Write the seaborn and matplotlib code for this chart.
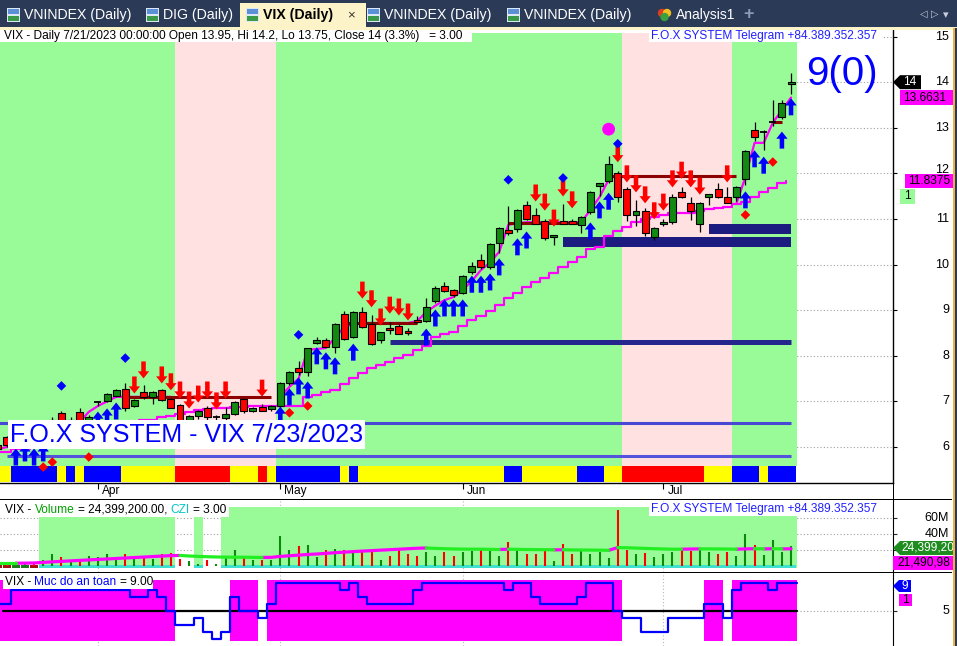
import numpy as np
import matplotlib
matplotlib.use("Agg")
import matplotlib.pyplot as plt
from matplotlib.path import Path
from matplotlib.patches import Rectangle, Polygon, Ellipse
import seaborn as sns

# ---------------- data ----------------
opens = [6.05, 6.22, 6.05, 6.15, 6.28, 6.20, 6.50, 6.75, 6.50, 6.77,
         6.50, 6.99, 7.01, 7.12, 7.27, 6.90, 7.21, 7.10, 7.25, 7.05,
         6.92, 6.60, 6.68, 6.86, 6.66, 6.64, 6.72, 7.05, 6.79, 6.88,
         6.83, 6.90, 7.40, 7.73, 7.64, 8.28, 8.35, 8.19, 8.92, 8.41,
         8.96, 8.70, 8.35, 8.61, 8.65, 8.54, 8.79, 8.76, 9.20, 9.53,
         9.44, 9.38, 9.84, 10.10, 9.95, 10.47, 10.76, 10.78, 11.31, 11.09,
         10.96, 10.60, 10.96, 10.96, 10.87, 11.15, 11.72, 11.83, 12.01, 11.66,
         11.09, 11.18, 10.61, 10.89, 10.93, 11.59, 11.35, 10.89, 11.48, 11.66,
         11.48, 11.48, 11.88, 12.95, 12.91, 13.13, 13.24, 13.95]
highs = [6.10, 6.25, 6.20, 6.30, 6.35, 6.55, 6.65, 6.80, 6.65, 6.85,
         6.70, 7.00, 7.18, 7.28, 7.40, 7.05, 7.35, 7.22, 7.28, 7.08,
         6.95, 6.70, 6.82, 6.90, 6.70, 6.88, 7.00, 7.08, 6.88, 6.95,
         6.92, 7.42, 7.66, 7.89, 8.18, 8.42, 8.40, 8.72, 8.99, 8.98,
         9.07, 8.89, 8.52, 8.74, 8.70, 8.60, 8.87, 9.27, 9.52, 9.62,
         9.47, 9.78, 10.05, 10.24, 10.48, 10.82, 11.28, 11.22, 11.40, 11.25,
         11.00, 10.65, 11.33, 11.00, 11.06, 11.62, 11.80, 12.38, 12.05, 11.70,
         11.42, 11.25, 10.82, 11.00, 11.55, 11.70, 11.48, 11.38, 11.55, 11.80,
         11.70, 11.72, 12.52, 13.12, 12.95, 13.60, 13.60, 14.20]
lows = [5.90, 6.00, 6.00, 6.10, 6.15, 6.18, 6.45, 6.45, 6.45, 6.50,
        6.45, 6.90, 6.98, 7.10, 6.80, 6.88, 7.05, 6.95, 7.00, 6.85,
        6.50, 6.55, 6.62, 6.60, 6.60, 6.60, 6.70, 6.75, 6.77, 6.78,
        6.80, 6.85, 7.35, 7.58, 7.55, 8.25, 8.19, 8.07, 8.35, 8.39,
        8.60, 8.24, 8.29, 8.48, 8.48, 8.45, 8.72, 8.74, 9.15, 9.40,
        9.30, 9.35, 9.80, 9.90, 9.90, 10.25, 10.66, 10.72, 10.98, 10.88,
        10.55, 10.42, 10.88, 10.88, 10.70, 11.10, 11.50, 11.78, 11.38, 10.95,
        10.85, 10.62, 10.55, 10.85, 10.90, 11.45, 10.98, 10.72, 11.30, 11.45,
        11.35, 11.40, 11.75, 12.70, 12.51, 13.05, 13.20, 13.75]
closes = [5.95, 6.04, 6.15, 6.28, 6.20, 6.50, 6.60, 6.50, 6.60, 6.55,
          6.66, 6.99, 7.16, 7.25, 6.86, 7.03, 7.10, 7.21, 7.03, 6.86,
          6.55, 6.67, 6.79, 6.66, 6.66, 6.72, 6.98, 6.79, 6.86, 6.79,
          6.90, 7.40, 7.64, 7.64, 8.17, 8.35, 8.19, 8.70, 8.37, 8.96,
          8.63, 8.26, 8.52, 8.57, 8.48, 8.50, 8.74, 9.07, 9.49, 9.42,
          9.33, 9.75, 9.97, 9.95, 10.45, 10.80, 10.69, 11.20, 11.00, 10.89,
          10.58, 10.64, 10.89, 10.89, 11.04, 11.59, 11.79, 12.21, 11.48, 11.09,
          11.18, 10.69, 10.80, 10.93, 11.48, 11.48, 11.18, 11.35, 11.55, 11.48,
          11.35, 11.70, 12.49, 12.80, 12.91, 13.13, 13.55, 14.00]
volume_m = [1.5, 2, 1.5, 2, 2.5, 7.5, 15, 11, 7.5, 9,
            12, 11, 15, 9, 15, 9, 12, 9, 15, 16,
            9, 6, 3, 8, 3, 12, 20, 12, 7.5, 7.5,
            7.5, 37, 20, 25, 26, 11, 20, 21, 20, 20,
            19, 18, 7.5, 12, 21, 15, 12, 17, 12, 18,
            12, 17, 19, 21, 19, 12, 30, 19, 15, 15,
            19, 6, 28, 15, 19, 15, 18, 10, 70, 20,
            15, 16, 11, 15, 18, 20, 19, 21, 18, 15,
            17, 12, 40, 26, 14, 32, 18, 24.3992]
volume_ma_m = [3.5, 3.5, 3.5, 3.6, 3.8, 4.5, 5.2, 5.8, 6.4, 7.0,
               7.6, 8.2, 8.8, 9.4, 10.0, 10.6, 11.2, 11.8, 12.4, 13.0,
               13.2, 12.5, 12.0, 11.6, 11.3, 11.1, 11.0, 11.0, 10.8, 10.7,
               10.8, 12.0, 12.8, 13.6, 14.4, 15.0, 15.8, 16.6, 17.3, 18.0,
               18.6, 19.2, 19.8, 20.4, 21.0, 21.6, 22.2, 22.5, 22.0, 21.6,
               21.3, 21.1, 21.0, 21.0, 20.8, 20.6, 21.0, 20.8, 20.6, 20.5,
               20.4, 20.2, 20.3, 20.1, 20.0, 19.9, 19.8, 19.6, 23.0, 22.8,
               22.4, 22.0, 21.6, 21.3, 21.0, 21.0, 21.2, 21.4, 21.4, 21.3,
               21.2, 21.0, 21.4, 21.6, 21.4, 21.6, 21.4, 21.490985]
safety_level = [6, 6, 8, 8, 8, 8, 8, 8, 8, 8,
                8, 8, 8, 8, 8, 7, 7, 8, 7, 5,
                3, 3, 4, 2, 1, 2, 7, 5, 5, 4,
                6, 9, 9, 9, 9, 9, 9, 9, 8, 9,
                7, 6, 6, 6, 6, 6, 8, 9, 9, 9,
                9, 9, 9, 9, 9, 9, 8, 9, 9, 7,
                6, 6, 6, 6, 7, 9, 9, 9, 5, 4,
                4, 2, 2, 2, 4, 4, 4, 4, 6, 6,
                4, 8, 9, 9, 9, 8, 9, 9]
trend_up = [1] * 20 + [0] * 11 + [1] * 38 + [0] * 12 + [1] * 7
volume_zone = [0] * 5 + [1] * 15 + [0, 0, 1, 0, 0] + [1] * 63
signal_strip = list("YYBBBBBYBY" "BBBBYYYYYY" "RRRRRRYYYR" "YBBBBBBBYB"
                    "YYYYYYYYYY" "YYYYYYBBYY" "YYYYBBBYYR" "RRRRRRRRYY" "YBBBYBBB")
nan = float("nan")
fast_line = ([5.95, 6.0, 6.0, 6.05, 6.1, 6.2, 6.3, 6.4, 6.45, 6.55,
              6.77, 6.9, 7.0, 7.1, 7.1, 7.1, 7.1, 7.1, 7.1, 7.1] + [nan] * 11 +
             [7.1, 7.32, 7.5, 8.13, 8.15, 8.17, 8.4, 8.63, 8.7,
              8.72, 8.72, 8.72, 8.72, 8.72, 8.72, 8.76, 8.96, 9.1, 9.22,
              9.29, 9.45, 9.64, 9.88, 10.05, 10.28, 10.87, 10.91, 10.93, 10.93,
              10.93, 10.93, 10.93, 10.93, 10.93, 11.2, 11.48, 11.86] + [nan] * 13 +
             [11.33, 11.92, 12.67, 12.67, 13.11, 13.39, 13.6631])
slow_line = [5.9, 5.9, 5.95, 5.95, 6.0, 6.0, 6.05, 6.1, 6.15, 6.2,
             6.25, 6.3, 6.4, 6.45, 6.5, 6.55, 6.59, 6.6, 6.65, 6.68,
             6.72, 6.77, 6.81, 6.83, 6.85, 6.86, 6.87, 6.88, 6.89, 6.90,
             6.90, 6.90, 6.90, 6.90, 7.10, 7.15, 7.20, 7.25, 7.38, 7.51,
             7.62, 7.73, 7.80, 7.86, 7.95, 8.02, 8.13, 8.21, 8.41, 8.47,
             8.52, 8.65, 8.79, 8.87, 8.98, 9.11, 9.27, 9.38, 9.51, 9.61,
             9.71, 9.82, 9.95, 10.06, 10.17, 10.34, 10.39, 10.63, 10.74, 10.82,
             10.93, 11.0, 11.04, 11.09, 11.13, 11.13, 11.13, 11.18, 11.22, 11.24,
             11.26, 11.33, 11.37, 11.48, 11.59, 11.68, 11.79, 11.8375]
month_ticks = [11, 31, 51, 73]
month_labels = ["Apr", "May", "Jun", "Jul"]
sell_idx = [15, 16, 18, 19, 20, 21, 22, 23, 24, 25, 29, 40, 41, 42, 43, 44, 45,
            59, 60, 61, 62, 63, 68, 69, 70, 71, 72, 73, 74, 75, 76, 77, 80]
sell_y = [7.36, 7.69, 7.58, 7.43, 7.25, 7.03, 7.16, 7.25, 7.01, 7.25, 7.29, 9.44, 9.25,
          8.85, 9.11, 9.07, 8.96, 11.57, 11.37, 11.02, 11.68, 11.42, 12.43, 11.99,
          11.77, 11.53, 11.18, 11.37, 11.88, 12.07, 11.88, 11.72, 11.99]
buy_idx = [2, 3, 4, 5, 11, 12, 13, 31, 32, 33, 34, 35, 36, 37, 39, 47, 48, 49, 50,
           51, 52, 53, 54, 55, 57, 58, 65, 66, 67, 82, 83, 84, 86, 87]
buy_y = [5.78, 5.87, 5.78, 5.87, 6.59, 6.66, 6.79, 6.70, 7.10, 7.34, 7.25, 8.0, 7.89,
         7.78, 8.08, 8.41, 8.83, 9.05, 9.05, 9.05, 9.57, 9.57, 9.62, 9.95, 10.39,
         10.54, 10.74, 11.2, 11.39, 11.42, 12.32, 12.18, 12.73, 13.46]
blue_dot_idx = [7, 14, 33, 56, 62, 68]
blue_dot_y = [7.34, 7.95, 8.46, 11.86, 11.90, 12.65]
red_dot_idx = [5, 6, 10, 32, 34, 82, 85]
red_dot_y = [5.56, 5.67, 5.78, 6.75, 6.90, 11.09, 12.25]
peak_idx = [67]
peak_y = [12.97]
resist_levels = [7.10, 8.72, 10.91, 11.94, 13.13]
resist_start = [14, 38, 56, 67, 85]
resist_end = [30, 46, 64, 81, 86]
support_levels = [10.50, 10.78, 8.30, 6.53, 5.80]
support_start = [62, 78, 43, 0, 1]
support_end = [87, 87, 87, 87, 87]

# ---------------- style ----------------
sns.set_style("white")
plt.rcParams["font.family"] = ["Liberation Sans", "DejaVu Sans"]

W, H = 957, 646
fig = plt.figure(figsize=(W / 100, H / 100), dpi=100)
fig.patch.set_facecolor("white")
renderer = fig.canvas.get_renderer()

n = len(closes)
idx = np.arange(n)
SP = 9.12
X0 = -2.4
xlim = ((0 - X0) / SP, (893 - X0) / SP)

def fy(p):
    return 1 - p / H

def frect(x0, y0, x1, y1, color, z=2):
    fig.add_artist(Rectangle((x0 / W, 1 - y1 / H), (x1 - x0) / W, (y1 - y0) / H,
                             transform=fig.transFigure, facecolor=color,
                             edgecolor="none", zorder=z))

def fpoly(pts, color, z=4):
    fig.add_artist(Polygon([(x / W, 1 - y / H) for x, y in pts], closed=True,
                           transform=fig.transFigure, facecolor=color,
                           edgecolor="none", zorder=z))

def ftext(x, y, s, size=8.6, color="black", ha="left", va="center", z=6, **kw):
    return fig.text(x / W, 1 - y / H, s, fontsize=size, color=color, ha=ha,
                    va=va, zorder=z, **kw)

def twidth(s, size):
    t = fig.text(0, 0, s, fontsize=size)
    w = t.get_window_extent(renderer).width
    t.remove()
    return w

def multitext(x0, y, pieces, size=8.6):
    full = ""
    for s, c in pieces:
        full += s
        st = s.strip()
        if not st:
            continue
        xs = x0 + twidth(full.rstrip(), size) - twidth(st, size)
        ftext(xs, y, st, size, c)

def runs(flags, val):
    out, start = [], None
    for i, f in enumerate(flags):
        if f == val and start is None:
            start = i
        if f != val and start is not None:
            out.append((start, i - 1))
            start = None
    if start is not None:
        out.append((start, len(flags) - 1))
    return out

def nan_runs(vals):
    out, start = [], None
    for i, v in enumerate(vals):
        ok = not np.isnan(v)
        if ok and start is None:
            start = i
        if not ok and start is not None:
            out.append((start, i - 1))
            start = None
    if start is not None:
        out.append((start, len(vals) - 1))
    return out

up_path = Path([(0, 0.75), (0.5, 0.12), (0.2, 0.12), (0.2, -0.75), (-0.2, -0.75),
                (-0.2, 0.12), (-0.5, 0.12), (0, 0.75)],
               [Path.MOVETO] + [Path.LINETO] * 6 + [Path.CLOSEPOLY])
down_path = Path([(x, -y) for x, y in up_path.vertices], up_path.codes)

# ---------------- axes ----------------
ax = fig.add_axes([0, fy(483), 893 / W, 453 / H])
ax_v = fig.add_axes([0, fy(572), 893 / W, 73 / H])
ax_s = fig.add_axes([0, fy(646), 893 / W, 72 / H])

GREEN_BG = "#98fb98"
PINK_BG = "#ffe1e1"

# main panel
ax.set_xlim(*xlim)
ax.set_ylim(6 - 36 / 45.6, 6 + 417 / 45.6)
ax.set_axisbelow(True)
ax.grid(True, axis="y", linestyle=(0, (1, 2)), color="#a0a0a0", lw=0.8)
ax.grid(False, axis="x")
for a, b in runs(trend_up, 1):
    ax.axvspan(a - 0.5, b + 0.5 if b < n - 1 else b + 0.65, ymin=0.0375, ymax=0.9934,
               color=GREEN_BG, lw=0, zorder=1)
for a, b in runs(trend_up, 0):
    ax.axvspan(a - 0.5, b + 0.5, ymin=0.0375, ymax=0.9934, color=PINK_BG, lw=0, zorder=1)

strip_colors = {"Y": "#ffff00", "B": "#0000ff", "R": "#ff0000"}
ax.bar(idx, 0.345, bottom=5.24, width=1.0, color=[strip_colors[c] for c in signal_strip],
       lw=0, zorder=2)

sup_w = [7.2, 7.2, 3.6, 2.2, 2.2]
sup_c = ["#1c1c80", "#1c1c80", "#25258e", "#4848d4", "#5252dc"]
for lv, a, b, w, c in zip(support_levels, support_start, support_end, sup_w, sup_c):
    ax.plot([a, b], [lv, lv], color=c, lw=w, solid_capstyle="butt", zorder=3)

sns.lineplot(x=idx - 0.5, y=slow_line, drawstyle="steps-post", color="#ff00ff",
             lw=1.6, ax=ax, zorder=3.5)
for a, b in nan_runs(fast_line):
    sns.lineplot(x=idx[a:b + 1], y=fast_line[a:b + 1], color="#ff00ff", lw=1.6,
                 ax=ax, zorder=3.6)
for lv, a, b in zip(resist_levels, resist_start, resist_end):
    ax.plot([a, b], [lv, lv], color="#8b0000", lw=2.2, solid_capstyle="butt", zorder=4)

o = np.array(opens); c = np.array(closes)
ax.vlines(idx, lows, highs, color="black", lw=0.9, zorder=5)
doji = np.abs(c - o) < 0.015
body_col = np.where(c >= o, "#128a12", "#ff0000")
ax.bar(idx[~doji], np.abs(c - o)[~doji], bottom=np.minimum(o, c)[~doji], width=0.76,
       color=body_col[~doji], edgecolor="black", lw=0.8, zorder=6)
ax.hlines(c[doji], idx[doji] - 0.38, idx[doji] + 0.38, color="black", lw=1.3, zorder=6)

sns.scatterplot(x=sell_idx, y=sell_y, marker=down_path, s=150, color="#ff0000",
                linewidth=0, edgecolor="none", ax=ax, zorder=7)
sns.scatterplot(x=buy_idx, y=buy_y, marker=up_path, s=150, color="#0000ff",
                linewidth=0, edgecolor="none", ax=ax, zorder=7)
sns.scatterplot(x=blue_dot_idx, y=blue_dot_y, marker="D", s=24, color="#0000ff",
                linewidth=0, edgecolor="none", ax=ax, zorder=7)
sns.scatterplot(x=red_dot_idx, y=red_dot_y, marker="D", s=24, color="#ff0000",
                linewidth=0, edgecolor="none", ax=ax, zorder=7)
sns.scatterplot(x=peak_idx, y=peak_y, marker="o", s=85, color="#ff00ff",
                linewidth=0, edgecolor="none", ax=ax, zorder=7)

ax.set_xlim(*xlim)
ax.set_ylim(6 - 36 / 45.6, 6 + 417 / 45.6)
ax.set_yticks(range(6, 16))
ax.set_xticks(month_ticks)
ax.tick_params(axis="y", left=False, right=True, labelleft=False, labelright=False,
               direction="out", length=3, color="black")
ax.tick_params(axis="x", bottom=True, labelbottom=False, direction="out", length=4,
               color="black")
ax.set_xlabel(""); ax.set_ylabel("")
for s in ["top", "left"]:
    ax.spines[s].set_visible(False)
for s in ["right", "bottom"]:
    ax.spines[s].set_color("black"); ax.spines[s].set_linewidth(1)

# volume panel
vol = np.array(volume_m) * 1e6
vma = np.array(volume_ma_m) * 1e6
ax_v.set_xlim(*xlim)
ax_v.set_ylim(-7.5e6, 83.75e6)
ax_v.set_axisbelow(True)
ax_v.set_yticks([20e6, 40e6, 60e6])
ax_v.grid(True, axis="y", linestyle=(0, (1, 2)), color="#a0a0a0", lw=0.8)
for t in month_ticks:
    ax_v.axvline(t, color="#b8b8b8", ls=(0, (1, 2)), lw=0.8, zorder=0.5)
    ax_s.axvline(t, color="#b8b8b8", ls=(0, (1, 2)), lw=0.8, zorder=0.5)
for a, b in runs(volume_zone, 1):
    ax_v.axvspan(a - 0.5, b + 0.5 if b < n - 1 else b + 0.65, ymin=0.055, ymax=0.89,
                 color=GREEN_BG, lw=0, zorder=1)
vcol = np.where(c >= o, "#0a8a0a", "#ff0000")
ax_v.vlines(idx, 0, vol, colors=vcol, lw=1.5, zorder=3)
zone = np.array(volume_zone) == 1
ax_v.bar(idx[zone], 3.5e6, bottom=-2.5e6, width=1.0, color="#3ee0d0", lw=0, zorder=2)
ax_v.bar(idx[~zone][:5], 3.5e6, bottom=-2.5e6, width=0.9,
         color=np.where(c >= o, "#1f7a1f", "#a01010")[~zone][:5], lw=0, zorder=2)
rising = np.r_[True, np.diff(vma) > 0]
seg_flags = [1 if r else 0 for r in rising]
for val, col in [(1, "#ff00ff"), (0, "#22ee22")]:
    for a, b in runs(seg_flags, val):
        lo = max(a - 1, 0)
        sns.lineplot(x=idx[lo:b + 1], y=vma[lo:b + 1], color=col, lw=2.3, ax=ax_v,
                     zorder=4)
ax_v.set_xlim(*xlim)
ax_v.set_ylim(-7.5e6, 83.75e6)
ax_v.set_xticks([])
ax_v.tick_params(axis="y", left=False, right=True, labelleft=False, labelright=False,
                 direction="out", length=3)
ax_v.set_xlabel(""); ax_v.set_ylabel("")
for s in ["top", "left", "bottom"]:
    ax_v.spines[s].set_visible(False)
ax_v.spines["right"].set_color("black")

# safety panel
ax_s.set_xlim(*xlim)
ax_s.set_ylim(0, 72 / 7)
ax_s.set_axisbelow(True)
ax_s.set_yticks([5])
ax_s.grid(True, axis="y", linestyle=(0, (1, 2)), color="#a0a0a0", lw=0.8)
safe_flags = [1 if v >= 5 else 0 for v in safety_level]
for a, b in runs(safe_flags, 1):
    ax_s.axvspan(a - 0.5, b + 0.5 if b < n - 1 else b + 0.65, ymin=5 / 72, ymax=66 / 72,
                 color="#ff00ff", lw=0, zorder=1)
ax_s.plot([0.6, n - 0.4], [5, 5], color="black", lw=1.6, zorder=3)
sx = np.r_[idx - 0.5, n - 0.4]
sy = np.r_[safety_level, safety_level[-1]]
sns.lineplot(x=sx, y=sy, drawstyle="steps-post", color="#0000ff", lw=1.6, ax=ax_s,
             zorder=4)
ax_s.set_xlim(*xlim)
ax_s.set_ylim(0, 72 / 7)
ax_s.set_xticks([])
ax_s.tick_params(axis="y", left=False, right=True, labelleft=False, labelright=False,
                 direction="out", length=3)
ax_s.set_xlabel(""); ax_s.set_ylabel("")
for s in ["top", "left", "bottom"]:
    ax_s.spines[s].set_visible(False)
ax_s.spines["right"].set_color("black")

# ---------------- helpers for pixel positions from data ----------------
def ypix(axis, v):
    return H - axis.transData.transform((0, v))[1]

def xpix(axis, i):
    return axis.transData.transform((i, 0))[0]

# ---------------- frame and tab bar ----------------
TAB = "#2b3a56"
frect(0, 0, W, 28, TAB, z=1)
frect(0, 27, W, 30, "#fdf3c8", z=2)
frect(240, 3, 366, 29, "#fdf3c8", z=2)
tabs = [("VNINDEX (Daily)", 7), ("DIG (Daily)", 146), ("VIX (Daily)", 246),
        ("VNINDEX (Daily)", 367), ("VNINDEX (Daily)", 507)]
for label, xi in tabs:
    frect(xi, 8, xi + 13, 22, "#dce8f6", z=3)
    frect(xi + 1, 9, xi + 12, 14, "#5b8fd6", z=3)
    frect(xi + 1, 16, xi + 12, 21, "#3a9a48", z=3)
    active = label == "VIX (Daily)"
    ftext(xi + 17, 15, label, size=10.2, color="black" if active else "white",
          weight="bold" if active else "normal")
ftext(347, 15, "×", size=9.5, color="#333333")
for dx, dy, col in [(0, -2, "#e03a20"), (5, -2, "#f0c020"), (2.5, 2, "#3aa040")]:
    fig.add_artist(Ellipse(((662 + dx) / W, 1 - (15 + dy) / H), 7 / W, 7 / H,
                           transform=fig.transFigure, color=col, zorder=3))
ftext(676, 15, "Analysis1", size=10.0, color="white")
ftext(743, 14, "+", size=13, color="#8a9ab8", weight="bold")
ftext(920, 14, "◁", size=7, color="#c8d0e0", family=["DejaVu Sans"])
ftext(931, 14, "▷", size=7, color="#c8d0e0", family=["DejaVu Sans"])
ftext(943, 15, "▾", size=8, color="#c8d0e0", family=["DejaVu Sans"])

frect(892.5, 30, 893.5, 646, "black", z=3)
frect(0, 498.5, 952, 499.7, "black", z=3)
frect(0, 572, 952, 573.3, "black", z=3)
frect(952.5, 28, 954.5, 646, "#f0b040", z=7)
frect(954.5, 28, 957, 646, TAB, z=7)

# ---------------- main panel texts ----------------
pct = (closes[-1] / closes[-2] - 1) * 100
header = (f"VIX - Daily 7/21/2023 00:00:00 Open {opens[-1]:g}, Hi {highs[-1]:g}, "
          f"Lo {lows[-1]:g}, Close {closes[-1]:g} ({pct:.1f}%)   = 3.00")
frect(0, 30, 472, 42, "white", z=4)
ftext(4, 36, header, 8.6)
tele = "F.O.X SYSTEM Telegram +84.389.352.357"
frect(649, 30, 882, 42, "white", z=4)
ftext(651, 36, tele, 8.6, color="#2020ff")
frect(8, 420, 365, 449, "white", z=4)
ftext(10, 435, "F.O.X SYSTEM - VIX 7/23/2023", 18, color="#0000ff")
ftext(806, 74, "9(0)", 29, color="#0000ff")

for v in range(6, 16):
    yv_ = ypix(ax, v)
    if v == 12:
        yv_ -= 3
    ftext(949, yv_, str(v), 9, ha="right", z=3)
for t, lab in zip(month_ticks, month_labels):
    ftext(xpix(ax, t) + 4, 491, lab, 8.6)

yc = ypix(ax, closes[-1])
fpoly([(893, yc), (900, yc - 7), (921, yc - 7), (921, yc + 7), (900, yc + 7)], "black")
ftext(903, yc, f"{closes[-1]:g}", 8.6, color="white")
yf = ypix(ax, fast_line[-1])
frect(900, yf - 7.5, 953, yf + 7.5, "#ff00ff", z=4)
ftext(903, yf, f"{fast_line[-1]:.4f}", 8.6)
ys = ypix(ax, slow_line[-1])
frect(905, ys - 7, 953, ys + 7, "#ff00ff", z=4)
ftext(908, ys, f"{slow_line[-1]:.4f}", 8.6)
frect(900, ys + 8, 915, ys + 23, GREEN_BG, z=4)
ftext(904, ys + 15.5, "1", 8.6)

# ---------------- volume texts ----------------
frect(3, 502, 229, 517, "white", z=4)
multitext(5, 510, [("VIX - ", "black"), ("Volume", "#00a000"),
                   (f" = {volume_m[-1] * 1e6:,.2f}, ", "black"), ("CZI", "#00c8c8"),
                   (" = 3.00", "black")])
frect(649, 502, 882, 516, "white", z=4)
ftext(651, 509, tele, 8.6, color="#2020ff")
for v, lab in [(60e6, "60M"), (40e6, "40M")]:
    ftext(949, ypix(ax_v, v), lab, 9, ha="right", z=3)
yv = ypix(ax_v, vol[-1]) + 1.5
fpoly([(893, yv), (900, yv - 7), (957, yv - 7), (957, yv + 7), (900, yv + 7)], "#1e8c1e")
ftext(901, yv, f"{vol[-1]:,.0f}"[:9], 8.6, color="white")
frect(893, yv + 8, 957, yv + 22, "#ff00ff", z=4)
ftext(897, yv + 15, f"{vma[-1]:,.0f}"[:9], 8.6)

# ---------------- safety texts ----------------
frect(3, 576, 153, 589, "white", z=4)
multitext(5, 582, [("VIX - ", "black"), ("Muc do an toan", "#0000ff"),
                   (f" = {safety_level[-1]:.2f}", "black")])
yq = ypix(ax_s, safety_level[-1]) + 3
fpoly([(893, yq), (899, yq - 6), (911, yq - 6), (911, yq + 6), (899, yq + 6)], "#0000ff")
ftext(901, yq, f"{safety_level[-1]}", 8.6, color="white")
frect(899, yq + 8, 912, yq + 20, "#ff00ff", z=4)
ftext(902, yq + 14, "1", 8.6)
ftext(949, ypix(ax_s, 5), "5", 9, ha="right", z=3)

fig.savefig("out.png", dpi=100)
